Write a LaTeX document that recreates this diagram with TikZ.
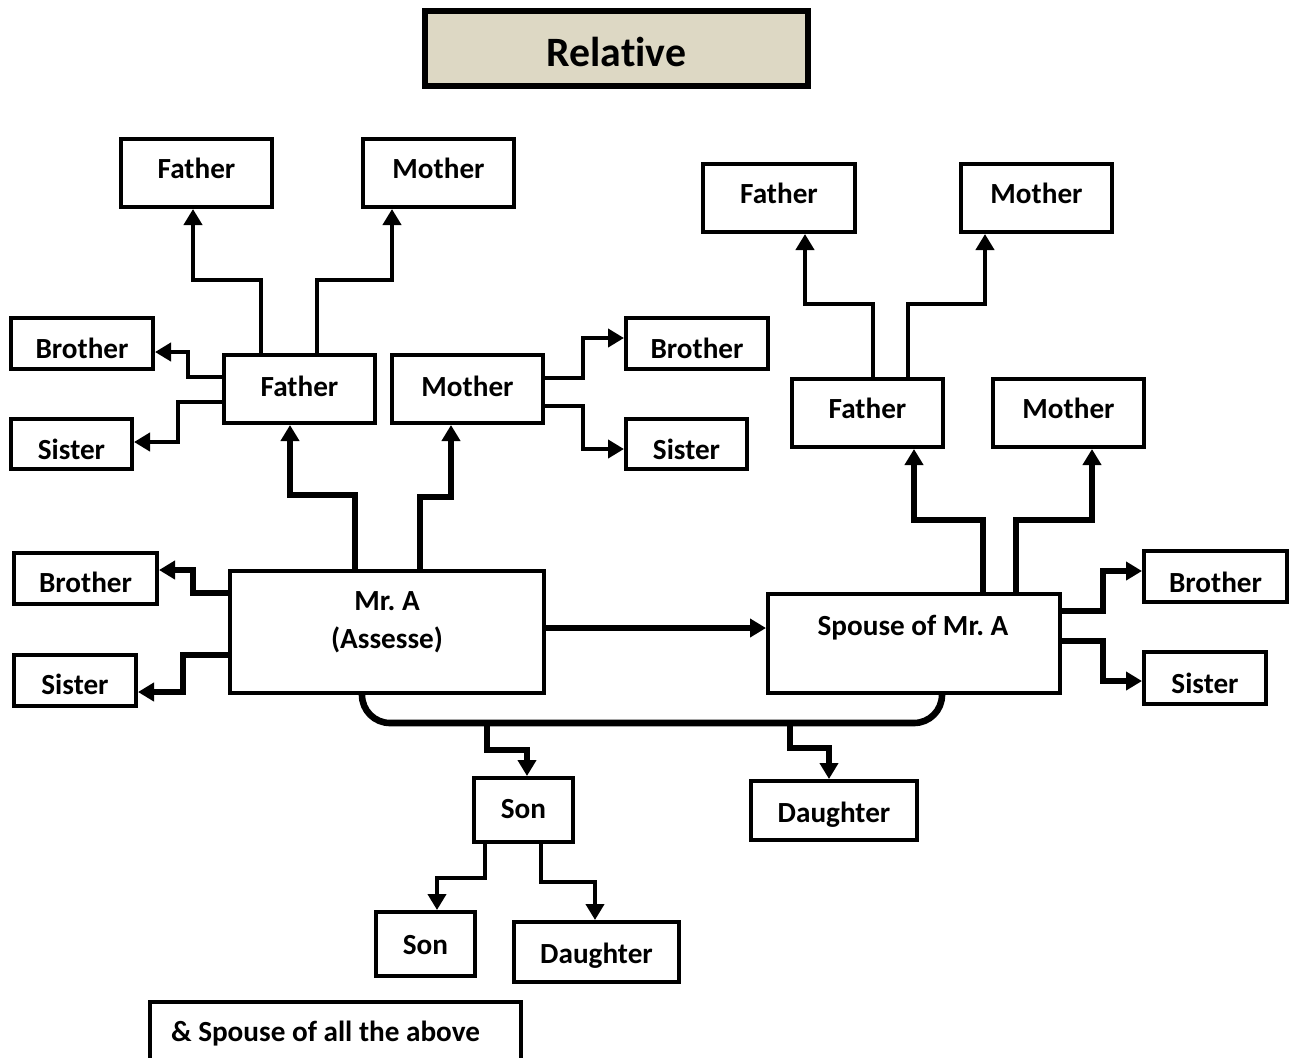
\documentclass[tikz,border=0pt]{standalone}
\usepackage{fontspec}
\setmainfont{Carlito}[Ligatures=CommonOff]
\usetikzlibrary{arrows.meta}
\frenchspacing

% rectangular box given by its corners (in px units) and its text;
% the optional argument nudges the text down by that many px
\newcommand\rbox[7][0]{%
  \node[boxst, minimum width={(#5-#3)*0.5pt}, minimum height={(#6-#4)*0.5pt},
    label={[boxtxt, yshift={-(#1)*0.5pt}]center:#7}]
    (#2) at ({(#3+#5)/2},{(#4+#6)/2}) {};}

\begin{document}
\begin{tikzpicture}[x=0.5pt,y=-0.5pt,
  boxst/.style={draw, line width=2pt, fill=white, inner sep=0pt},
  boxtxt/.style={inner sep=0pt, font=\fontsize{14.6}{17}\selectfont\bfseries},
  lnthin/.style={line width=2pt, -{Triangle[length=8pt,width=9pt]}},
  lnthick/.style={line width=3.3pt, -{Triangle[length=8pt,width=9pt]}},
  plainthick/.style={line width=3.3pt}]
\useasboundingbox (0,0) rectangle (1296,1057);

% title
\node[draw, line width=3pt, fill={rgb,255:red,221;green,216;blue,196}, inner sep=0pt,
  minimum width={383*0.5pt}, minimum height={75*0.5pt}] (title) at (616.5,48.5) {};
\node[font=\fontsize{20.9}{24}\selectfont\bfseries] at (616.5,52) {Relative};

% paternal side
\rbox[-5]{gfF}{121}{139}{272}{207}{Father}
\rbox[-5]{gfM}{363}{139}{514}{207}{Mother}
\rbox[-3]{pF}{224}{355}{375}{423}{Father}
\rbox[-3]{pM}{392}{355}{543}{423}{Mother}
\rbox[5]{fB}{11}{318}{153}{369}{Brother}
\rbox[5]{fS}{11}{419}{132}{469}{Sister}
\rbox[5]{mB}{626}{318}{768}{369}{Brother}
\rbox[5]{mS}{626}{419}{747}{469}{Sister}

% spouse side
\rbox[-5]{sgF}{703}{164}{855}{232}{Father}
\rbox[-5]{sgM}{961}{164}{1112}{232}{Mother}
\rbox[-5]{sF}{792}{379}{943}{447}{Father}
\rbox[-5]{sM}{993}{379}{1144}{447}{Mother}

% Mr. A and his siblings
\rbox[4]{aB}{14}{553}{157}{604}{Brother}
\rbox[4]{aS}{14}{655}{136}{706}{Sister}
\rbox{mra}{230}{571}{544}{693}{}
\node[font=\fontsize{14.6}{18}\selectfont\bfseries, align=center] at (387,622)
  {Mr. A\\[1pt](Assesse)};

% spouse and her siblings
\rbox{sp}{768}{594}{1060}{693}{}
\node[font=\fontsize{14.6}{17}\selectfont\bfseries] at (913,628) {Spouse of Mr. A};
\rbox[6]{spB}{1144}{551}{1287}{602}{Brother}
\rbox[5]{spS}{1144}{652}{1266}{704}{Sister}

% children and grandchildren
\rbox[-1]{son}{474}{778}{573}{842}{Son}
\rbox[4]{dau}{751}{781}{917}{840}{Daughter}
\rbox[1]{gson}{376}{912}{475}{976}{Son}
\rbox[4]{gdau}{514}{922}{679}{982}{Daughter}

% note box running off the bottom edge
\draw[line width=2pt] (150,1070) |- (521,1002) -- (521,1070);
\node[anchor=west, font=\fontsize{14.6}{17}\selectfont\bfseries] (note) at (164,1034)
  {\& Spouse of all the above};

% father's parents and siblings
\draw[lnthin] (261,0 |- pF.north) |- (193,280) -- (193,0 |- gfF.south);
\draw[lnthin] (317,0 |- pF.north) |- (392,280) -- (392,0 |- gfM.south);
\draw[lnthin] (pF.west |- 0,377) -| (188,352) -- (fB.east |- 0,352);
\draw[lnthin] (pF.west |- 0,402) -| (178,442) -- (fS.east |- 0,442);

% mother's siblings
\draw[lnthin] (pM.east |- 0,378) -| (583,338) -- (mB.west |- 0,338);
\draw[lnthin] (pM.east |- 0,406) -| (583,449) -- (mS.west |- 0,449);

% Mr. A to his parents and siblings
\draw[lnthick] (355,0 |- mra.north) |- (290,495) -- (290,0 |- pF.south);
\draw[lnthick] (420,0 |- mra.north) |- (451,497) -- (451,0 |- pM.south);
\draw[lnthick] (mra.west |- 0,593) -| (193,570) -- (aB.east |- 0,570);
\draw[lnthick] (mra.west |- 0,655) -| (183,692) -- (aS.east |- 0,692);

% Mr. A to spouse
\draw[lnthick] (mra.east |- 0,628) -- (sp.west |- 0,628);

% spouse's father to his parents
\draw[lnthin] (873,0 |- sF.north) |- (805,304) -- (805,0 |- sgF.south);
\draw[lnthin] (908,0 |- sF.north) |- (985,304) -- (985,0 |- sgM.south);

% spouse to her parents and siblings
\draw[lnthick] (983,0 |- sp.north) |- (914,520) -- (914,0 |- sF.south);
\draw[lnthick] (1016,0 |- sp.north) |- (1092,520) -- (1092,0 |- sM.south);
\draw[lnthick] (sp.east |- 0,611) -| (1103,571) -- (spB.west |- 0,571);
\draw[lnthick] (sp.east |- 0,641) -| (1103,681) -- (spS.west |- 0,681);

% joint bracket under the couple
\draw[plainthick, rounded corners=14pt] (362,0 |- mra.south) -- (362,723) -- (942,723)
  -- (942,0 |- sp.south);
\coordinate (jl) at (487,723);
\coordinate (jr) at (790,723);
\draw[lnthick] (jl) |- (527,750) -- (527,0 |- son.north);
\draw[lnthick] (jr) |- (829,748) -- (829,0 |- dau.north);

% son's children
\draw[lnthin] (485,0 |- son.south) |- (437,878) -- (437,0 |- gson.north);
\draw[lnthin] (541,0 |- son.south) |- (595,882) -- (595,0 |- gdau.north);
\end{tikzpicture}
\end{document}
